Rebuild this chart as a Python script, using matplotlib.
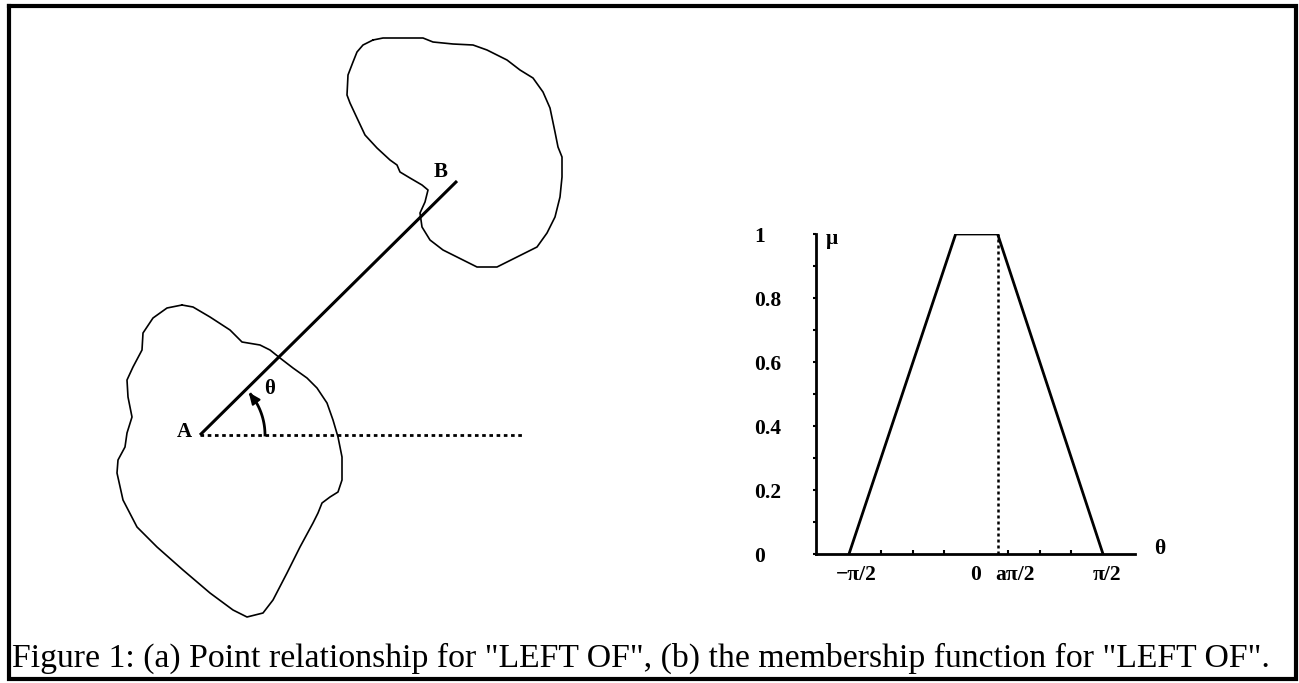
import numpy as np
import matplotlib
matplotlib.use("Agg")
import matplotlib.pyplot as plt
from matplotlib.transforms import ScaledTranslation

plt.rcParams['font.family'] = ['Liberation Serif', 'DejaVu Serif']

# ---- data -------------------------------------------------------------
# outline of region A (pixel coords of the drawing, y down)
blob_a_x = [182, 193, 210, 230, 242, 260, 270, 280, 293, 307, 317, 327, 333, 338, 342, 342,
            338, 330, 322, 318, 313, 300, 287, 273, 263, 247, 233, 210, 183, 157, 137, 123,
            117, 118, 125, 127, 132, 128, 127, 133, 142, 143, 153, 160, 167, 182]
blob_a_y = [305, 307, 317, 330, 342, 345, 350, 358, 368, 378, 388, 403, 420, 437, 457, 480,
            492, 497, 503, 513, 523, 547, 573, 600, 613, 617, 610, 593, 570, 547, 527, 500,
            473, 460, 447, 433, 417, 397, 380, 367, 350, 333, 318, 313, 308, 305]

# outline of region B
blob_b_x = [373, 383, 403, 423, 433, 453, 473, 487, 507, 520, 533, 543, 550, 555, 558, 562,
            562, 560, 555, 547, 537, 517, 497, 477, 463, 443, 430, 422, 420, 425, 428, 422,
            410, 400, 397, 390, 377, 365, 357, 350, 347, 348, 353, 357, 363, 373]
blob_b_y = [40, 38, 38, 38, 42, 44, 45, 50, 60, 70, 78, 92, 108, 132, 147, 157,
            177, 197, 217, 233, 247, 257, 267, 267, 260, 250, 240, 227, 213, 202, 190, 185,
            178, 172, 165, 160, 148, 135, 118, 103, 95, 75, 62, 52, 45, 40]

point_a = (200, 435)
point_b = (457, 181)
ref_end_x = 522

# membership function, theta in units of pi/2
a = 0.17
theta_pts = [-1.0, -0.16, a, 1.0]
mu_pts = [0, 1, 1, 0]
ytick_vals = [0, 0.2, 0.4, 0.6, 0.8, 1]
ytick_labels = ['0', '0.2', '0.4', '0.6', '0.8', '1']
xtick_labels = ['\u2212\u03c0/2', '0', 'a\u03c0/2', '\u03c0/2']

caption = 'Figure 1: (a) Point relationship for "LEFT OF", (b) the membership function for "LEFT OF".'

# ---- figure -----------------------------------------------------------
W, H = 1299, 683
fig = plt.figure(figsize=(W / 100, H / 100), dpi=100)

# full-figure drawing canvas in pixel coords
ax0 = fig.add_axes([0, 0, 1, 1])
ax0.set_xlim(0, W)
ax0.set_ylim(H, 0)
ax0.axis('off')

# frame
ax0.plot([9, 1296, 1296, 9, 9], [5.5, 5.5, 679, 679, 5.5], color='black', lw=3, solid_joinstyle='miter')

ax0.plot(blob_a_x, blob_a_y, color='black', lw=1.2)
ax0.plot(blob_b_x, blob_b_y, color='black', lw=1.2)
ax0.plot([point_a[0], point_b[0]], [point_a[1], point_b[1]], color='black', lw=2.2, solid_capstyle='butt')
ax0.plot([point_a[0], ref_end_x], [point_a[1], point_a[1]], color='black', lw=2,
         linestyle=(0, (1.3, 1.3)))

# angle arc with arrow
ang = np.degrees(np.arctan2(point_a[1] - point_b[1], point_b[0] - point_a[0]))
r = 65
t = np.radians(np.linspace(0, ang - 6, 40))
ax0.plot(point_a[0] + r * np.cos(t), point_a[1] - r * np.sin(t), color='black', lw=2)
t1, t2 = np.radians(ang - 14), np.radians(ang - 1)
ax0.annotate('', xy=(point_a[0] + r * np.cos(t2), point_a[1] - r * np.sin(t2)),
             xytext=(point_a[0] + r * np.cos(t1), point_a[1] - r * np.sin(t1)),
             arrowprops=dict(arrowstyle='-|>,head_length=0.7,head_width=0.3', color='black', lw=1.5))

ax0.text(184, 432, 'A', fontsize=15, fontweight='bold', ha='center', va='center')
ax0.text(441, 172, 'B', fontsize=15, fontweight='bold', ha='center', va='center')
ax0.text(270, 389, '\u03b8', fontsize=15, fontweight='bold', ha='center', va='center')

ax0.text(12, 667, caption, fontsize=24.3, ha='left', va='baseline')

# membership function plot
x0, x1, y0, y1 = 816, 1135, 554, 234
ax = fig.add_axes([x0 / W, 1 - y0 / H, (x1 - x0) / W, (y0 - y1) / H])
ax.patch.set_alpha(0)
half_pi = np.pi / 2
ax.plot(np.array(theta_pts) * half_pi, mu_pts, color='black', lw=2)
ax.plot([a * half_pi, a * half_pi], [0, 1], color='black', lw=1.8, linestyle=(0, (1.2, 1.2)))
ax.set_xlim((x0 - 976) / 127 * half_pi, (x1 - 976) / 127 * half_pi)
ax.set_ylim(0, 1)
for s in ['top', 'right']:
    ax.spines[s].set_visible(False)
for s in ['left', 'bottom']:
    ax.spines[s].set_linewidth(2)

ax.set_xticks(np.arange(-4, 5) * np.pi / 8, minor=True)
ax.set_xticks(np.array([-1, 0, a, 1]) * half_pi)
ax.set_xticklabels(xtick_labels, fontsize=15.5, fontweight='bold')
ax.tick_params(axis='x', which='major', length=0, pad=8)
ax.tick_params(axis='x', which='minor', direction='in', length=3, width=1.5)
# nudge labels the way they sit in the original
for lab, dx, ha in zip(ax.get_xticklabels(), [7, 0, -2, 4], ['center', 'center', 'left', 'center']):
    lab.set_ha(ha)
    lab.set_transform(lab.get_transform() + ScaledTranslation(dx / 100, 0, fig.dpi_scale_trans))

ax.set_yticks(np.arange(0, 1.01, 0.1), minor=True)
ax.set_yticks(ytick_vals)
ax.set_yticklabels(ytick_labels, fontsize=15.5, fontweight='bold', ha='left')
ax.tick_params(axis='y', which='major', direction='out', length=2.5, width=1.5, pad=42)
ax.tick_params(axis='y', which='minor', direction='out', length=2.5, width=1.5)

ax.text(826, 239, '\u03bc', transform=ax0.transData, fontsize=15.5, fontweight='bold', ha='left', va='center')
ax.text(1160, 549, '\u03b8', transform=ax0.transData, fontsize=15.5, fontweight='bold', ha='center', va='center')

fig.savefig('out.png', dpi=100)
